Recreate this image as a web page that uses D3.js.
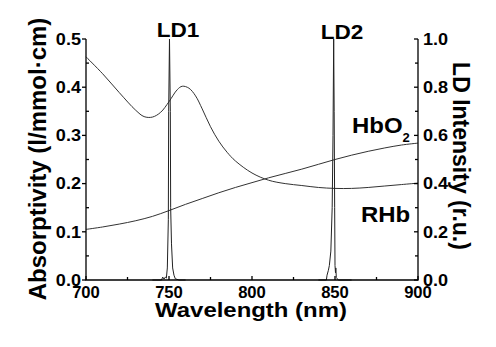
<!DOCTYPE html>
<html><head><meta charset="utf-8">
<script src="https://cdn.jsdelivr.net/npm/d3@7"></script>
<style>html,body{margin:0;padding:0;background:#fff}svg{display:block}text{font-family:"Liberation Sans",Arial,sans-serif;font-weight:bold;fill:#000}</style>
</head><body><svg id="c" width="496" height="347"></svg>
<script>
// Absorptivity spectra (l/mmol·cm)
const wlHbO2 = [700,710,720,730,740,750,760,770,780,790,800,810,820,830,840,850,860,870,880,890,900];
const hbo2   = [0.105,0.110,0.116,0.123,0.132,0.144,0.157,0.169,0.181,0.192,0.202,0.212,0.221,0.230,0.240,0.250,0.259,0.267,0.274,0.280,0.284];
const wlRHb  = [700,710,720,730,735,740,745,750,755,758,762,766,770,775,780,785,790,800,810,820,830,840,850,860,870,880,890,900];
const rhb    = [0.463,0.428,0.389,0.352,0.339,0.338,0.348,0.370,0.395,0.402,0.398,0.382,0.355,0.318,0.288,0.265,0.247,0.222,0.207,0.200,0.196,0.192,0.190,0.190,0.192,0.195,0.198,0.201];
// LD emission spectra (relative units)
const wlLD1  = [740,745.5,746.2,747,747.8,748.4,749.0,749.6,749.8,750.3,750.8,751.0,751.5,752.2,753.0,753.8,756,760];
const ld1    = [0,0,0.012,0.004,0.012,0.008,0.05,0.25,0.7,1.0,0.7,0.3,0.15,0.05,0.02,0.005,0,0];
const wlLD2  = [840,844.8,845.2,846.0,846.6,847.5,848.3,848.8,849.2,849.5,849.8,850.0,850.3,850.5,850.8,852,860];
const ld2    = [0,0,0.02,0.04,0.06,0.12,0.3,0.6,1.0,0.7,0.3,0.06,0.03,0.05,0.01,0,0];
const xTicks = [700,750,800,850,900];
const yTicks = [0.0,0.1,0.2,0.3,0.4,0.5];
const y2Ticks = [0.0,0.2,0.4,0.6,0.8,1.0];

const svg = d3.select("#c");
const L=86, R=418, T=39, B=280;
const x = d3.scaleLinear().domain([700,900]).range([L,R]);
const y = d3.scaleLinear().domain([0,0.5]).range([B,T]);
const y2 = d3.scaleLinear().domain([0,1]).range([B,T]);

function txt(tx, ty, s, size, opts={}) {
  const t = svg.append("text")
    .attr("transform", `translate(${tx},${ty}) rotate(${opts.rot||0}) scale(${opts.sx||1},1)`)
    .attr("font-size", size)
    .attr("text-anchor", opts.anchor||"start")
    .text(s);
  if (opts.dy) t.attr("dy", opts.dy);
  return t;
}

// curves
const line = (xs, ys, sc, curve) => d3.line().x((d,i)=>x(xs[i])).y((d,i)=>sc(ys[i])).curve(curve)(ys);
const smooth = d3.curveCatmullRom.alpha(0.5);
svg.append("path").attr("d", line(wlHbO2, hbo2, y, smooth)).attr("fill","none").attr("stroke","#333").attr("stroke-width",1);
svg.append("path").attr("d", line(wlRHb, rhb, y, smooth)).attr("fill","none").attr("stroke","#333").attr("stroke-width",1);
svg.append("path").attr("d", line(wlLD1, ld1, y2, d3.curveLinear)).attr("fill","none").attr("stroke","#222").attr("stroke-width",1);
svg.append("path").attr("d", line(wlLD2, ld2, y2, d3.curveLinear)).attr("fill","none").attr("stroke","#222").attr("stroke-width",1);

// axes lines
const ax = svg.append("g").attr("stroke","#000").attr("stroke-width",1.3).attr("fill","none");
ax.append("path").attr("d",`M${L},${T}V${B}H${R}V${T}`);
// x ticks (inward)
d3.range(700,901,25).forEach(v=>{
  const major = v%50===0;
  ax.append("line").attr("x1",x(v)).attr("x2",x(v)).attr("y1",B).attr("y2",B-(major?4:3));
});
// left ticks
d3.range(0,0.501,0.05).forEach(v=>{
  const major = Math.round(v*100)%10===0;
  ax.append("line").attr("y1",y(v)).attr("y2",y(v)).attr("x1",L).attr("x2",major?L-4:L+3);
});
// right ticks
d3.range(0,1.001,0.1).forEach(v=>{
  const major = Math.round(v*10)%2===0;
  ax.append("line").attr("y1",y2(v)).attr("y2",y2(v)).attr("x1",R).attr("x2",major?R-4:R-3);
});

// tick labels
xTicks.forEach(v=>txt(x(v), 298, d3.format("d")(v), 16, {anchor:"middle", sx:1.04}));
yTicks.forEach(v=>txt(81, y(v), d3.format(".1f")(v), 16, {anchor:"end", sx:1.13, dy:"0.36em"}));
y2Ticks.forEach(v=>txt(423, y2(v), d3.format(".1f")(v), 16, {anchor:"start", sx:1.13, dy:"0.36em"}));

// titles
txt(251, 316.5, "Wavelength (nm)", 21, {anchor:"middle", sx:1.14});
txt(45.5, 159, "Absorptivity (l/mmol\u00B7cm)", 24, {anchor:"middle", rot:-90});
txt(452.5, 156, "LD Intensity (r.u.)", 23, {anchor:"middle", rot:90});

// annotations
txt(178, 37, "LD1", 20, {anchor:"middle", sx:1.13});
txt(342, 38.5, "LD2", 20, {anchor:"middle", sx:1.13});
txt(352, 132.5, "HbO", 22, {sx:1.09});
txt(402.5, 141.5, "2", 12, {sx:1.09});
txt(361, 221.5, "RHb", 22, {sx:1.09});
</script></body></html>
